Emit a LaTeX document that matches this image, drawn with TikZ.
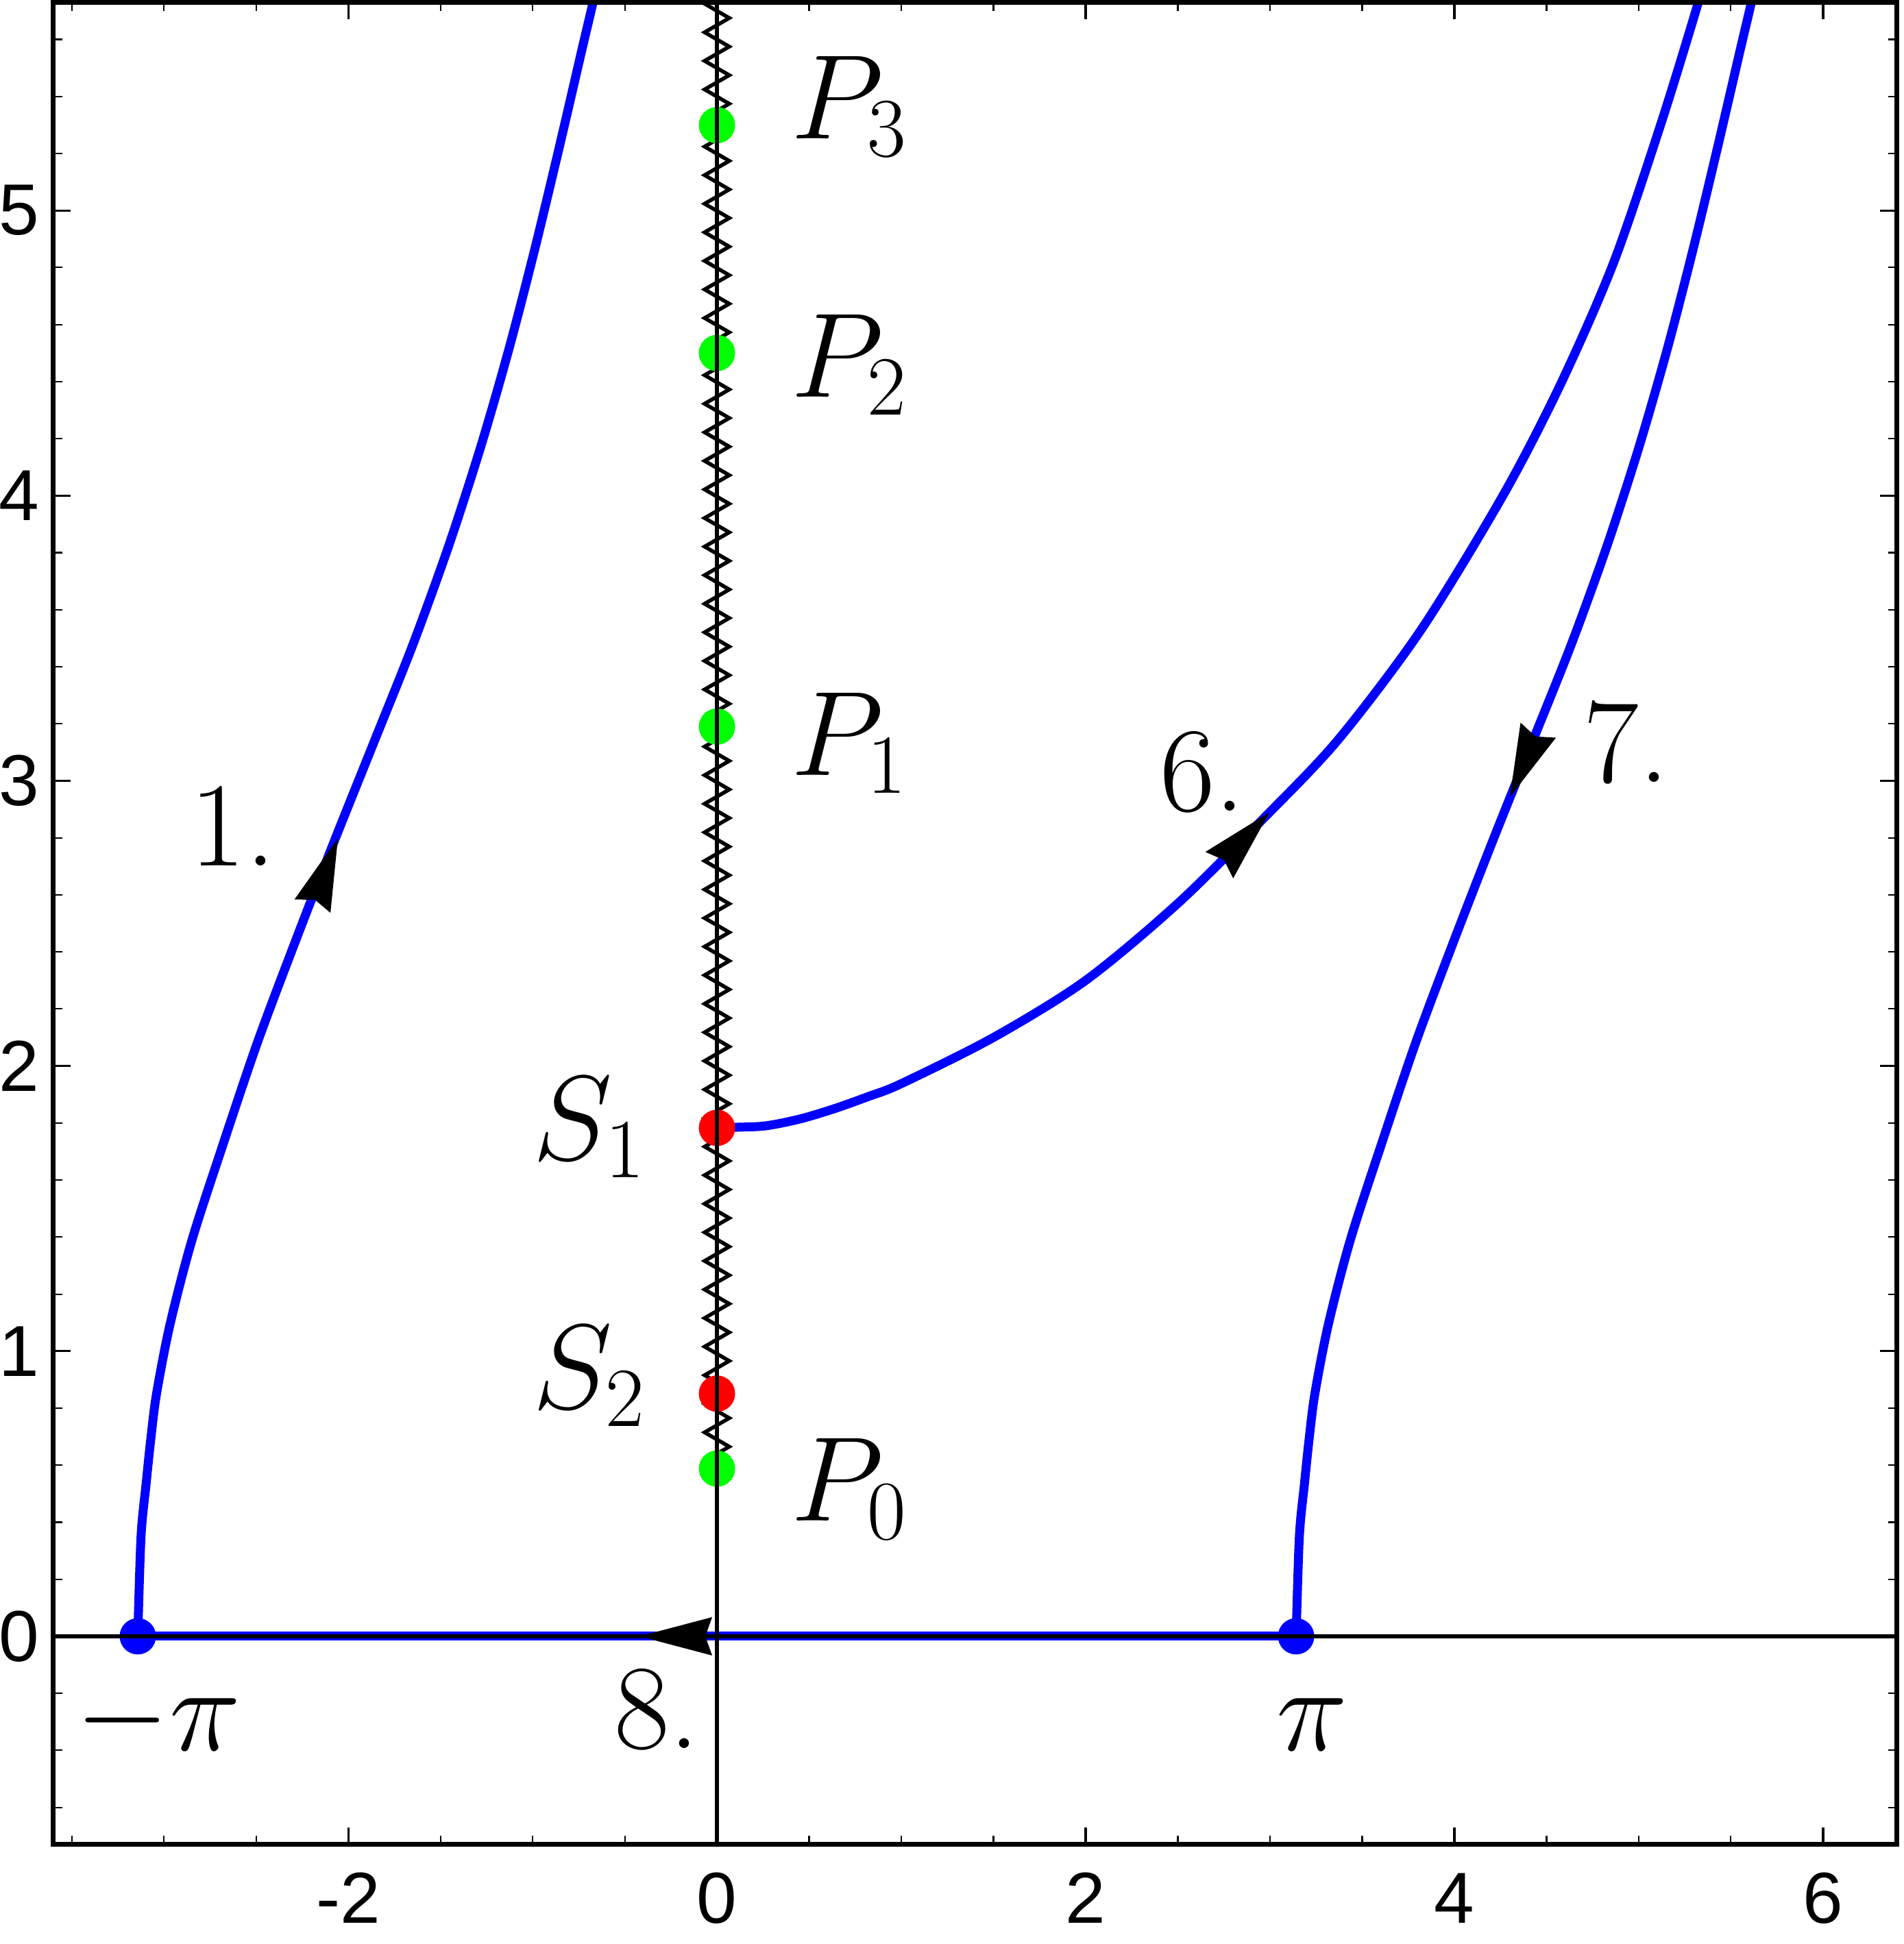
\RequirePackage{fix-cm}
\documentclass[tikz,border=0pt]{standalone}
\usepackage{fontspec}
\newfontfamily\ticksf{Liberation Sans}
\DeclareMathSizes{50}{50}{35}{25}
\usetikzlibrary{decorations.pathmorphing}
\definecolor{ptgreen}{RGB}{0,255,0}
\definecolor{ptred}{RGB}{255,0,0}
\definecolor{ptblue}{RGB}{0,0,255}
\begin{document}
\begin{tikzpicture}[x=2.69cm,y=4.162cm,
  curve/.style={ptblue, line width=0.13cm, line cap=round, line join=round},
  axisline/.style={black, line width=0.065cm},
  framebox/.style={black, line width=0.07cm, line join=miter},
  cut/.style={black, line width=0.055cm, decorate,
    decoration={zigzag, segment length=0.417cm, amplitude=0.18cm}},
  lbl/.style={inner sep=0pt, font=\fontsize{50}{60}\selectfont},
  ticklbl/.style={inner sep=0pt, font=\ticksf\fontsize{30}{36}\selectfont},
  minortick/.style={black, line width=0.6pt},
  majortick/.style={black, line width=0.9pt},
  arrowhd/.pic={\fill[black] (0,0) -- (-1.06cm,0.28cm) -- (-0.96cm,0) -- (-1.06cm,-0.28cm) -- cycle;}
]
\useasboundingbox (-3.889,-1.079) rectangle (6.439,5.738);

% named points
\coordinate (Lpi) at (-3.14159,0);
\coordinate (Rpi) at (3.14159,0);
\coordinate (S1) at (0,1.783);
\coordinate (S2) at (0,0.851);
\coordinate (P0) at (0,0.588);
\coordinate (P1) at (0,3.19);
\coordinate (P2) at (0,4.50);
\coordinate (P3) at (0,5.299);
\coordinate (cutTop) at (0,5.80);

\begin{scope}
\clip (-3.6,-0.73) rectangle (6.4,5.73);
% branch cut
\draw[cut] (cutTop) -- (P0);
% curve 8
\draw[curve] (Rpi) -- (Lpi);
% curve 1
\draw[curve] plot[smooth, tension=0.5] coordinates {
 (-3.14159,0) (-3.124,0.35) (-3.097,0.531) (-3.071,0.692) (-3.040,0.85)
 (-2.967,1.093) (-2.847,1.391) (-2.672,1.739) (-2.490,2.087) (-2.288,2.435)
 (-2.079,2.783) (-1.864,3.130) (-1.649,3.478) (-1.454,3.826) (-1.28,4.174)
 (-1.125,4.522) (-0.986,4.870) (-0.857,5.217) (-0.732,5.565) (-0.669,5.739)
 (-0.60,5.95)};
% curve 7 (curve 1 shifted by 2 pi)
\begin{scope}[shift={(6.28319,0)}]
\draw[curve] plot[smooth, tension=0.5] coordinates {
 (-3.14159,0) (-3.124,0.35) (-3.097,0.531) (-3.071,0.692) (-3.040,0.85)
 (-2.967,1.093) (-2.847,1.391) (-2.672,1.739) (-2.490,2.087) (-2.288,2.435)
 (-2.079,2.783) (-1.864,3.130) (-1.649,3.478) (-1.454,3.826) (-1.28,4.174)
 (-1.125,4.522) (-0.986,4.870) (-0.857,5.217) (-0.732,5.565) (-0.669,5.739)
 (-0.60,5.95)};
\end{scope}
% curve 6
\draw[curve] plot[smooth, tension=0.5] coordinates {
 (0,1.783) (0.1,1.785) (0.264,1.790) (0.45,1.814) (0.636,1.850)
 (0.822,1.893) (1.0,1.938) (1.5,2.10) (2.0,2.30) (2.5,2.57) (2.968,2.870)
 (3.371,3.145) (3.822,3.532) (4.272,4.010) (4.580,4.396) (4.865,4.819)
 (5.126,5.315) (5.327,5.738) (5.37,5.85)};
% dots
\fill[ptblue] (Lpi) circle[radius=0.265cm];
\fill[ptblue] (Rpi) circle[radius=0.265cm];
\fill[ptred] (S1) circle[radius=0.265cm];
\fill[ptred] (S2) circle[radius=0.265cm];
\fill[ptgreen] (P0) circle[radius=0.265cm];
\fill[ptgreen] (P1) circle[radius=0.265cm];
\fill[ptgreen] (P2) circle[radius=0.265cm];
\fill[ptgreen] (P3) circle[radius=0.265cm];
% axes
\draw[axisline] (-3.6,0) -- (6.4,0);
\draw[axisline] (0,-0.73) -- (0,5.73);
\end{scope}

% arrowheads
\pic[rotate=69.5] at (-2.056,2.799) {arrowhd};
\pic[rotate=46.5] at (2.996,2.889) {arrowhd};
\pic[rotate=247] at (4.301,2.943) {arrowhd};
\pic[rotate=180] at (-0.42,0) {arrowhd};

% labels
\node[lbl, anchor=base west] (lP3) at (0.40,5.252) {$P_3$};
\node[lbl, anchor=base west] (lP2) at (0.40,4.346) {$P_2$};
\node[lbl, anchor=base west] (lP1) at (0.40,3.02) {$P_1$};
\node[lbl, anchor=base west] (lP0) at (0.40,0.404) {$P_0$};
\node[lbl, anchor=base west] (lS1) at (-1.0,1.672) {$S_1$};
\node[lbl, anchor=base west] (lS2) at (-1.0,0.80) {$S_2$};
\node[lbl, anchor=base west] (l1) at (-2.86,2.703) {1.};
\node[lbl, anchor=base west] (l6) at (2.40,2.895) {6.};
\node[lbl, anchor=base west] (l7) at (4.70,2.994) {7.};
\node[lbl, anchor=base west] (l8) at (-0.56,-0.394) {8.};
\node[lbl, anchor=base west] (lmpi) at (-3.48,-0.401) {$-\pi$};
\node[lbl, anchor=base] (lpi) at (3.23,-0.401) {$\pi$};

% frame ticks
\foreach \i in {-7,...,12} {
  \draw[minortick] (\i*0.5,-0.73) -- ++(0,0.13cm);
  \draw[minortick] (\i*0.5,5.73) -- ++(0,-0.13cm);
}
\foreach \x in {-2,0,2,4,6} {
  \draw[majortick] (\x,-0.73) -- ++(0,0.25cm);
  \draw[majortick] (\x,5.73) -- ++(0,-0.25cm);
  \node[ticklbl] (tx\x) at (\x,-0.918) {\x};
}
\foreach \i in {-3,...,28} {
  \draw[minortick] (-3.6,\i*0.2) -- ++(0.13cm,0);
  \draw[minortick] (6.4,\i*0.2) -- ++(-0.13cm,0);
}
\foreach \y in {0,...,5} {
  \draw[majortick] (-3.6,\y) -- ++(0.25cm,0);
  \draw[majortick] (6.4,\y) -- ++(-0.25cm,0);
  \node[ticklbl] (ty\y) at (-3.784,\y) {\y};
}
\draw[framebox] (-3.6,-0.73) rectangle (6.4,5.73);
\end{tikzpicture}
\end{document}
